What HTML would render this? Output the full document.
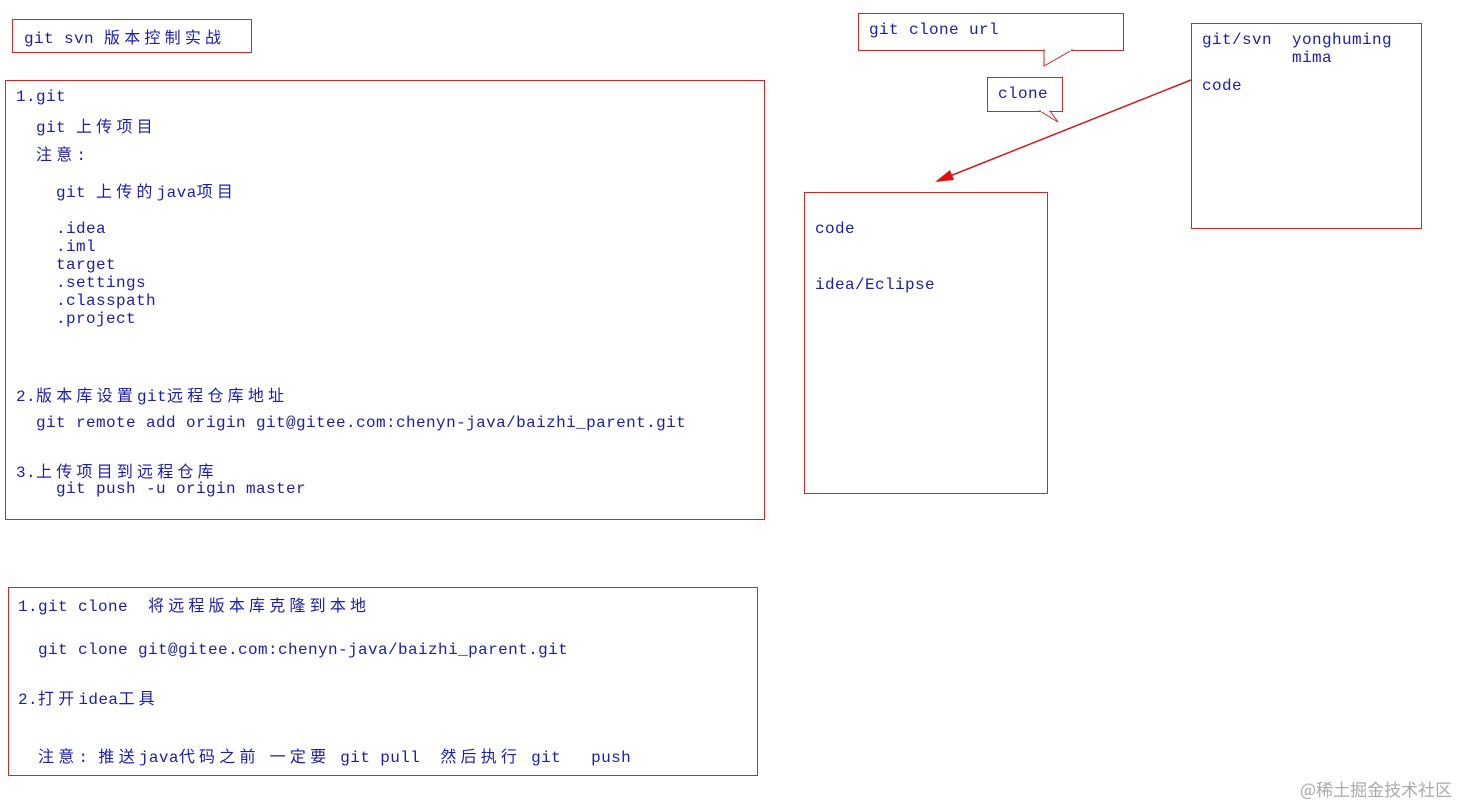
<!DOCTYPE html>
<html><head><meta charset="utf-8"><style>
body{margin:0;width:1466px;height:803px;background:#fff;position:relative;overflow:hidden;font-family:"Liberation Mono","Noto Sans CJK SC",monospace;}
.b{position:absolute;border:1px solid #d42424;box-sizing:border-box;background:#fff}
.t{position:absolute;font-size:16px;letter-spacing:0.4px;color:#1c1cb0;white-space:pre;line-height:18px;}
.c{letter-spacing:4.2px;font-family:"Noto Sans CJK SC","WenQuanYi Zen Hei",sans-serif;font-size:16px}
</style></head><body>
<svg width="1466" height="803" style="position:absolute;left:0;top:0">
<line x1="1191" y1="80" x2="945" y2="178" stroke="#cc1c1c" stroke-width="1.5"/>
<polygon points="935,182 950,170 954,180" fill="#dd1010"/>
</svg>
<div class="b" style="left:12px;top:19px;width:240px;height:34px"></div>
<div class="b" style="left:5px;top:80px;width:760px;height:440px"></div>
<div class="b" style="left:8px;top:587px;width:750px;height:189px"></div>
<div class="b" style="left:804px;top:192px;width:244px;height:302px"></div>
<div class="b" style="left:1191px;top:23px;width:231px;height:206px"></div>
<svg width="1466" height="803" style="position:absolute;left:0;top:0">
<rect x="858.5" y="13.5" width="265" height="37" fill="#fff" stroke="#d42424"/>
<polygon points="1044,50 1044,66 1072,50" fill="#fff" stroke="#d42424"/>
<line x1="1045" y1="50" x2="1071" y2="50" stroke="#fff" stroke-width="2"/>
<rect x="987.5" y="77.5" width="75" height="34" fill="#fff" stroke="#d42424"/>
<polygon points="1040,111 1058,122 1050,111" fill="#fff" stroke="#d42424"/>
<line x1="1041" y1="111" x2="1049" y2="111" stroke="#fff" stroke-width="2"/>
</svg>
<div class="t" style="left:24px;top:27px">git svn <span class="c">版本控制实战</span></div>
<div class="t" style="left:16px;top:88px">1.git</div>
<div class="t" style="left:36px;top:116px">git <span class="c">上传项目</span></div>
<div class="t" style="left:36px;top:144px"><span class="c">注意</span>:</div>
<div class="t" style="left:56px;top:181px">git <span class="c">上传的</span>java<span class="c">项目</span></div>
<div class="t" style="left:56px;top:220px">.idea</div>
<div class="t" style="left:56px;top:238px">.iml</div>
<div class="t" style="left:56px;top:256px">target</div>
<div class="t" style="left:56px;top:274px">.settings</div>
<div class="t" style="left:56px;top:292px">.classpath</div>
<div class="t" style="left:56px;top:310px">.project</div>
<div class="t" style="left:16px;top:385px">2.<span class="c">版本库设置</span>git<span class="c">远程仓库地址</span></div>
<div class="t" style="left:36px;top:414px">git remote add origin git@gitee.com:chenyn-java/baizhi_parent.git</div>
<div class="t" style="left:16px;top:461px">3.<span class="c">上传项目到远程仓库</span></div>
<div class="t" style="left:56px;top:480px">git push -u origin master</div>
<div class="t" style="left:18px;top:595px">1.git clone  <span class="c">将远程版本库克隆到本地</span></div>
<div class="t" style="left:38px;top:641px">git clone git@gitee.com:chenyn-java/baizhi_parent.git</div>
<div class="t" style="left:18px;top:688px">2.<span class="c">打开</span>idea<span class="c">工具</span></div>
<div class="t" style="left:38px;top:746px"><span class="c">注意</span>: <span class="c">推送</span>java<span class="c">代码之前</span> <span class="c">一定要</span> git pull  <span class="c">然后执行</span> git   push</div>
<div class="t" style="left:815px;top:220px">code</div>
<div class="t" style="left:815px;top:276px">idea/Eclipse</div>
<div class="t" style="left:1202px;top:31px">git/svn  yonghuming</div>
<div class="t" style="left:1292px;top:49px">mima</div>
<div class="t" style="left:1202px;top:77px">code</div>
<div class="t" style="left:869px;top:21px">git clone url</div>
<div class="t" style="left:998px;top:85px">clone</div>
<div style="position:absolute;left:1300px;top:776px;font-size:17px;color:#aaa;font-family:'Noto Sans CJK SC',sans-serif">@稀土掘金技术社区</div>
</body></html>
